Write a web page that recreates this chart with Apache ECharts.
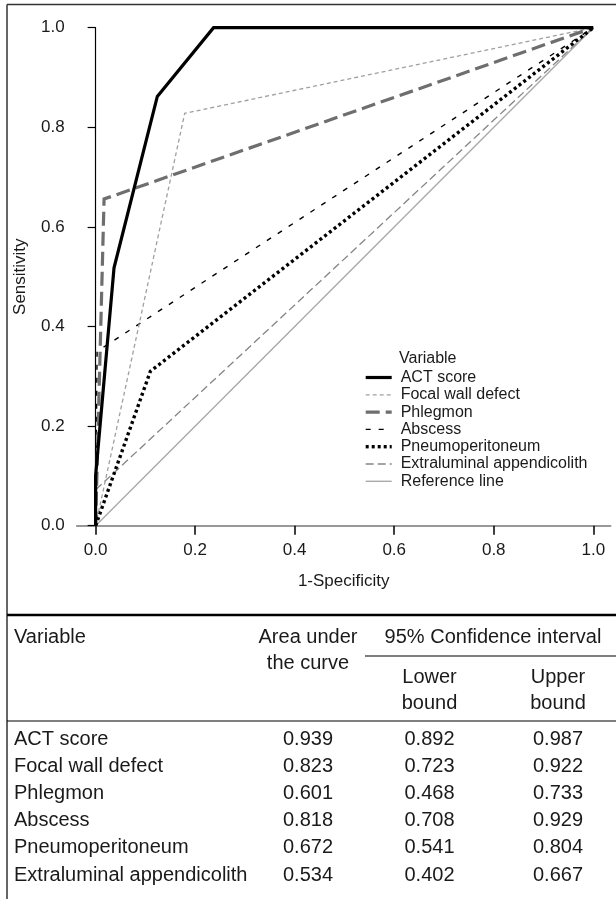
<!DOCTYPE html>
<html>
<head>
<meta charset="utf-8">
<script src="https://cdn.jsdelivr.net/npm/echarts@6/dist/echarts.min.js"></script>
<style>
html,body{margin:0;padding:0;background:#fff;}
#chart{width:616px;height:899px;}
</style>
</head>
<body>
<div id="chart"></div>
<script>
// ---- Data ----
const xTicks = [0, 0.2, 0.4, 0.6, 0.8, 1.0];
const seriesNames = ['ACT score', 'Focal wall defect', 'Phlegmon', 'Abscess', 'Pneumoperitoneum', 'Extraluminal appendicolith', 'Reference line'];
const actX = [0, 0, 0.037, 0.124, 0.237, 1];
const actY = [0, 0.10, 0.518, 0.862, 1, 1];
const focalX = [0, 0.179, 1];
const focalY = [0, 0.828, 1];
const phlegX = [0, 0.017, 1];
const phlegY = [0, 0.656, 1];
const abscX = [0, 0.003, 1];
const abscY = [0, 0.35, 1];
const pneuX = [0, 0.11, 1];
const pneuY = [0, 0.31, 1];
const extraX = [0, 0, 1];
const extraY = [0, 0.072, 1];
const refX = [0, 1];
const refY = [0, 1];

const tableVars = ['ACT score', 'Focal wall defect', 'Phlegmon', 'Abscess', 'Pneumoperitoneum', 'Extraluminal appendicolith'];
const aucVals = ['0.939', '0.823', '0.601', '0.818', '0.672', '0.534'];
const lowerVals = ['0.892', '0.723', '0.468', '0.708', '0.541', '0.402'];
const upperVals = ['0.987', '0.922', '0.733', '0.929', '0.804', '0.667'];

// ---- Build ----
const zip = (xs, ys) => xs.map((x, i) => [x, ys[i]]);
const FONT = '"Liberation Sans", Arial, Helvetica, sans-serif';

const styles = [
  {color: '#000', width: 3.2, type: 'solid'},
  {color: '#a0a0a0', width: 1.3, type: [4, 3]},
  {color: '#6e6e6e', width: 3.2, type: [14, 6]},
  {color: '#000', width: 1.4, type: [5, 8]},
  {color: '#000', width: 3.4, type: [3, 3]},
  {color: '#858585', width: 1.3, type: [8, 4]},
  {color: '#aaaaaa', width: 1.4, type: 'solid'}
];
const dataSets = [zip(actX, actY), zip(focalX, focalY), zip(phlegX, phlegY), zip(abscX, abscY), zip(pneuX, pneuY), zip(extraX, extraY), zip(refX, refY)];
const zs = [9, 5, 6, 4, 7, 3, 2];

const series = seriesNames.map((name, i) => ({
  name: name,
  type: 'line',
  data: dataSets[i],
  symbol: 'none',
  animation: false,
  clip: false,
  z: zs[i],
  color: styles[i].color,
  lineStyle: {color: styles[i].color, width: styles[i].width, type: styles[i].type, cap: 'butt', join: 'miter'}
}));

const legendData = seriesNames.map((name, i) => ({
  name: name,
  lineStyle: {color: styles[i].color, width: styles[i].width, type: styles[i].type}
}));

// Table graphics
const graphics = [];
const txt = (x, y, s, align, size) => ({
  type: 'text', x: x, y: y, silent: true,
  style: {text: s, fill: '#1a1a1a', font: (size || 20) + 'px ' + FONT, textAlign: align || 'left', textVerticalAlign: 'middle'}
});
const line = (x1, y1, x2, y2, w, c) => ({
  type: 'line', silent: true,
  shape: {x1: x1, y1: y1, x2: x2, y2: y2},
  style: {stroke: c || '#000', lineWidth: w}
});
// frame
graphics.push(line(7, 4.5, 616, 4.5, 1.5, '#333'));
graphics.push(line(7, 4.5, 7, 899, 1.5, '#333'));
// legend title
graphics.push(txt(399, 358.5, 'Variable', 'left', 16));
// table rules
graphics.push(line(7, 615, 616, 615, 2.5, '#000'));
graphics.push(line(365, 656, 616, 656, 1.2, '#000'));
graphics.push(line(7, 721, 616, 721, 1.2, '#000'));
// headers
const colAuc = 308, colLow = 429.5, colUp = 558;
graphics.push(txt(14, 637, 'Variable'));
graphics.push(txt(colAuc, 637, 'Area under', 'center'));
graphics.push(txt(colAuc, 663, 'the curve', 'center'));
graphics.push(txt(493, 637, '95% Confidence interval', 'center'));
graphics.push(txt(colLow, 677, 'Lower', 'center'));
graphics.push(txt(colLow, 703, 'bound', 'center'));
graphics.push(txt(colUp, 677, 'Upper', 'center'));
graphics.push(txt(colUp, 703, 'bound', 'center'));
const rowY0 = 739, rowH = 27.2;
tableVars.forEach((v, i) => {
  const y = rowY0 + i * rowH;
  graphics.push(txt(14, y, v));
  graphics.push(txt(colAuc, y, aucVals[i], 'center'));
  graphics.push(txt(colLow, y, lowerVals[i], 'center'));
  graphics.push(txt(colUp, y, upperVals[i], 'center'));
});

const chart = echarts.init(document.getElementById('chart'), null, {renderer: 'canvas'});
chart.setOption({
  animation: false,
  backgroundColor: '#fff',
  textStyle: {fontFamily: FONT},
  grid: {left: 76.7, right: 5.3, top: 27.7, height: 498, containLabel: false},
  xAxis: {
    type: 'value', min: -0.038, max: 1.035,
    name: '1-Specificity', nameLocation: 'middle', nameGap: 47,
    nameTextStyle: {fontSize: 17, color: '#1a1a1a', fontFamily: FONT},
    axisLine: {show: true, lineStyle: {color: '#777', width: 1.5}},
    axisTick: {show: true, customValues: xTicks, length: 9, lineStyle: {color: '#000', width: 1.5}},
    axisLabel: {customValues: xTicks, formatter: v => v.toFixed(1), fontSize: 17, margin: 16, color: '#1a1a1a', fontFamily: FONT},
    splitLine: {show: false}
  },
  yAxis: {
    type: 'value', min: 0, max: 1, interval: 0.2,
    name: 'Sensitivity', nameLocation: 'middle', nameGap: 48, nameRotate: 90,
    nameTextStyle: {fontSize: 17, color: '#1a1a1a', fontFamily: FONT},
    axisLine: {show: true, lineStyle: {color: '#000', width: 1.2}},
    axisTick: {show: true, length: 8, lineStyle: {color: '#000', width: 1.2}},
    axisLabel: {formatter: v => v.toFixed(1), fontSize: 17, margin: 12, color: '#1a1a1a', fontFamily: FONT},
    splitLine: {show: false}
  },
  legend: {
    orient: 'vertical', left: 364, top: 369.5, padding: 0,
    itemWidth: 26, itemHeight: 14, itemGap: 1.3,
    itemStyle: {opacity: 0},
    data: legendData,
    textStyle: {fontSize: 16, color: '#1a1a1a', fontFamily: FONT, lineHeight: 14, padding: [0, 0, 0, 4]},
    selectedMode: false
  },
  series: series,
  graphic: {elements: graphics}
});
</script>
</body>
</html>
